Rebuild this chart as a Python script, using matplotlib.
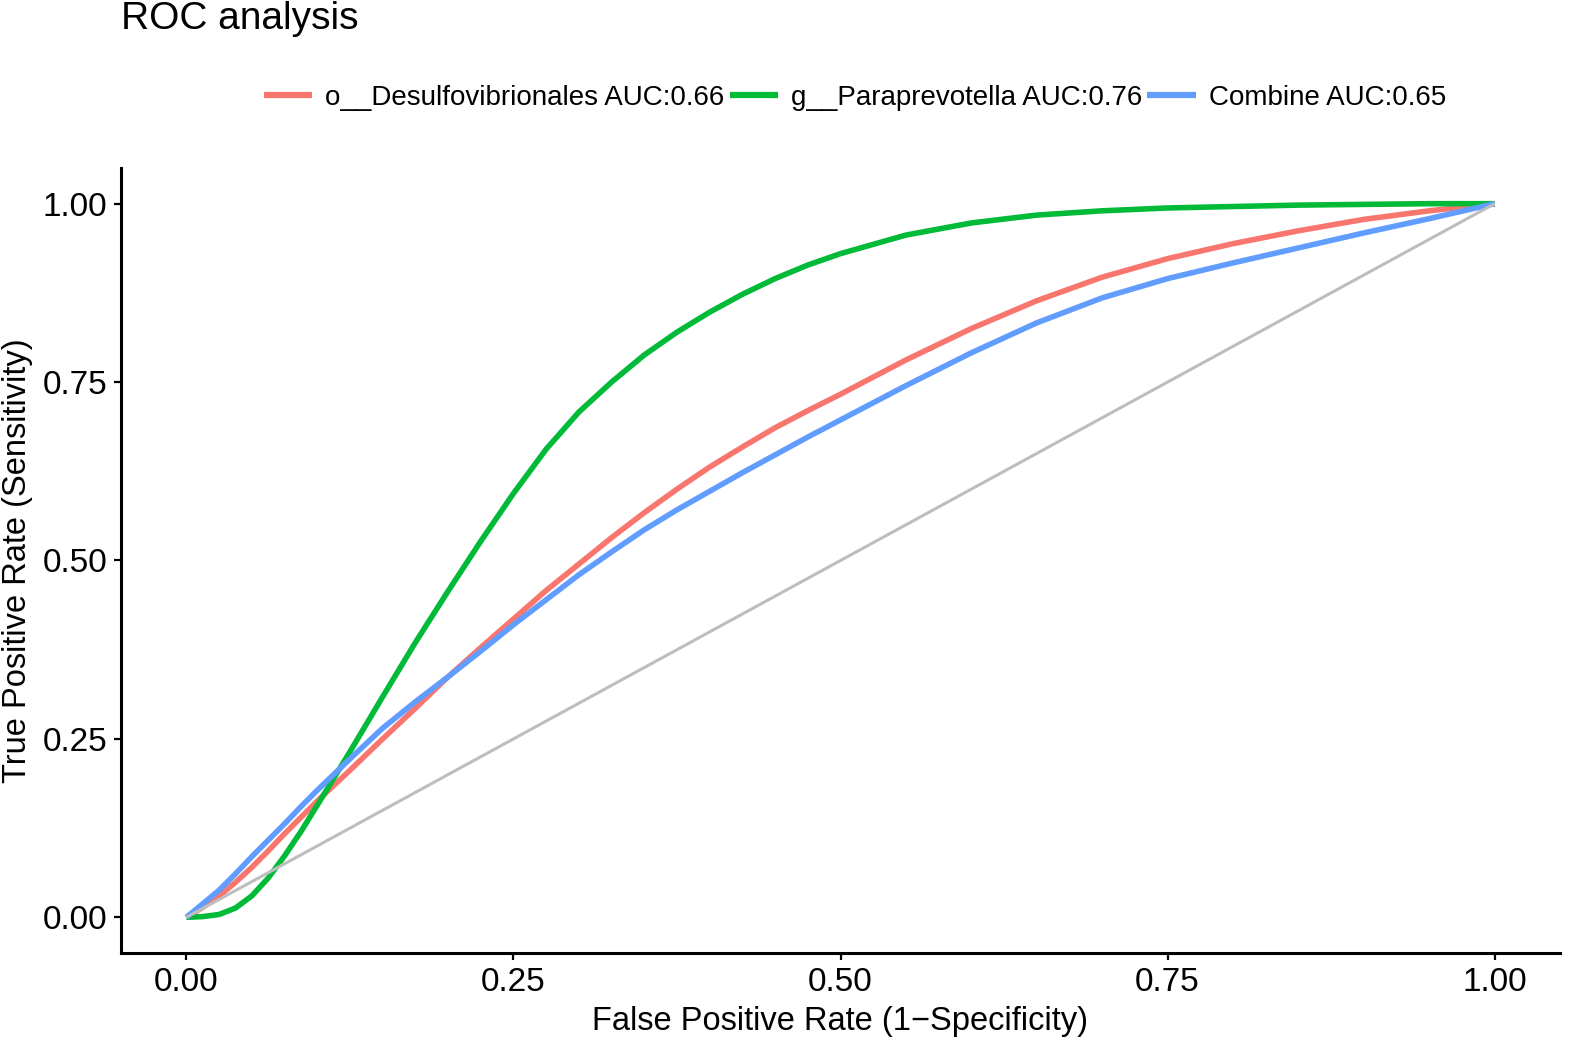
import numpy as np
import matplotlib
matplotlib.use("Agg")
import matplotlib.pyplot as plt
from matplotlib.lines import Line2D

plt.rcParams['font.family'] = ['Liberation Sans', 'DejaVu Sans']

# Значения (FPR -> TPR)
fpr = [0.0, 0.0125, 0.025, 0.0375, 0.05, 0.0625, 0.075, 0.0875, 0.1, 0.125, 0.15,
       0.175, 0.2, 0.225, 0.25, 0.275, 0.3, 0.325, 0.35, 0.375, 0.4, 0.425, 0.45,
       0.475, 0.5, 0.55, 0.6, 0.65, 0.7, 0.75, 0.8, 0.85, 0.9, 0.95, 1.0]

tpr_desulfo = [0.0, 0.014, 0.03, 0.049, 0.07, 0.093, 0.117, 0.14, 0.163, 0.206, 0.25,
               0.293, 0.337, 0.378, 0.418, 0.458, 0.495, 0.532, 0.567, 0.6, 0.631, 0.659, 0.686,
               0.71, 0.733, 0.781, 0.825, 0.864, 0.897, 0.923, 0.944, 0.962, 0.978, 0.990, 1.0]

tpr_parapre = [0.0, 0.001, 0.004, 0.013, 0.03, 0.055, 0.086, 0.12, 0.157, 0.232, 0.309,
               0.385, 0.457, 0.527, 0.594, 0.656, 0.708, 0.75, 0.788, 0.82, 0.848, 0.873, 0.895,
               0.914, 0.93, 0.956, 0.973, 0.984, 0.990, 0.994, 0.996, 0.998, 0.999, 1.0, 1.0]

tpr_combine = [0.0, 0.019, 0.038, 0.061, 0.085, 0.108, 0.131, 0.155, 0.178, 0.222, 0.265,
               0.302, 0.337, 0.373, 0.41, 0.445, 0.48, 0.512, 0.543, 0.571, 0.597, 0.623, 0.648,
               0.673, 0.697, 0.745, 0.791, 0.833, 0.868, 0.895, 0.917, 0.938, 0.959, 0.979, 1.0]

series = [
    ("o__Desulfovibrionales AUC:0.66", tpr_desulfo, "#F8766D"),
    ("g__Paraprevotella AUC:0.76", tpr_parapre, "#00BA38"),
    ("Combine AUC:0.65", tpr_combine, "#619CFF"),
]

x_ticks = [0.0, 0.25, 0.5, 0.75, 1.0]
y_ticks = [0.0, 0.25, 0.5, 0.75, 1.0]

fig = plt.figure(figsize=(15.92, 10.64), dpi=100)
ax = fig.add_axes([121 / 1592, 1 - 953 / 1064, (1560 - 121) / 1592, (953 - 168) / 1064])

for label, tpr, color in series:
    ax.plot(fpr, tpr, color=color, lw=4.0, solid_capstyle='butt',
            solid_joinstyle='round', label=label)

# диагональ
ax.plot([0, 1], [0, 1], color="#BEBEBE", lw=2.2, solid_capstyle='butt')

ax.set_xlim(-0.05, 1.05)
ax.set_ylim(-0.05, 1.05)
ax.set_xticks(x_ticks)
ax.set_yticks(y_ticks)
ax.set_xticklabels([f"{v:.2f}" for v in x_ticks])
ax.set_yticklabels([f"{v:.2f}" for v in y_ticks])
ax.tick_params(axis='both', length=5, width=1.6, color='black', labelsize=24,
               labelcolor='black', pad=5)

for side in ['top', 'right']:
    ax.spines[side].set_visible(False)
for side in ['left', 'bottom']:
    ax.spines[side].set_linewidth(2.2)
    ax.spines[side].set_color('black')

ax.set_xlabel("False Positive Rate (1\u2212Specificity)", fontsize=23.5, labelpad=6)
ax.set_ylabel("True Positive Rate (Sensitivity)", fontsize=23.5, labelpad=7)

fig.text(121 / 1592, 1 - 19 / 1064, "ROC analysis", fontsize=28, ha='left', va='center')

handles = [Line2D([0], [0], color=c, lw=4.5, solid_capstyle='butt') for _, _, c in series]
labels = [s[0] for s in series]
fig.legend(handles, labels, loc='center', bbox_to_anchor=(855 / 1592, 1 - 98 / 1064),
           ncol=3, frameon=False, fontsize=20, handlelength=1.75, handletextpad=0.47,
           columnspacing=0.18)

fig.savefig("out.png", dpi=100)
